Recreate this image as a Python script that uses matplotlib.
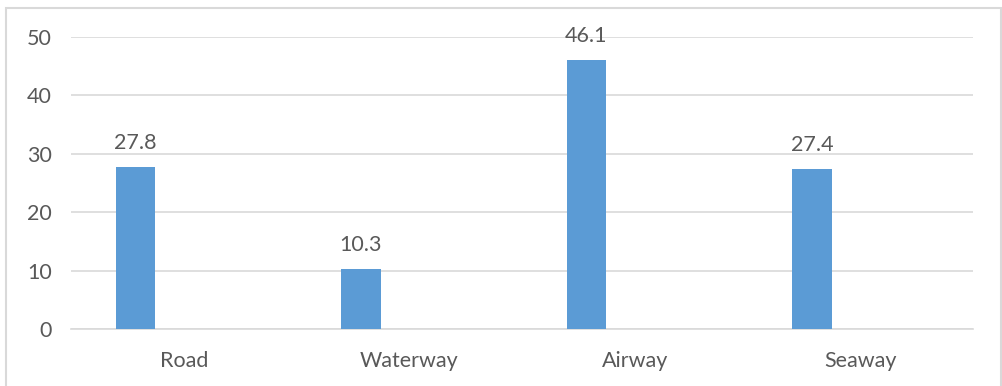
import matplotlib.pyplot as plt
from matplotlib.patches import Rectangle
import numpy as np

categories = ['Road', 'Waterway', 'Airway', 'Seaway']
values = [27.8, 10.3, 46.1, 27.4]
y_ticks = [0, 10, 20, 30, 40, 50]

plt.rcParams['font.family'] = ['Lato', 'DejaVu Sans']
text_color = '#595959'
grid_color = '#d9d9d9'
bar_color = '#5b9bd5'

fig = plt.figure(figsize=(10.03, 3.86), dpi=100)
ax = fig.add_axes([0.0708, 0.1477, 0.8994, 0.7564])

# outer chart border (bottom edge falls outside the image)
fig.patches.append(Rectangle((6 / 1003, -0.05), 995 / 1003, 1.05 - 8 / 386,
                             transform=fig.transFigure, fill=False,
                             edgecolor=grid_color, linewidth=1.5))

x = np.arange(len(categories))
offset = -0.215
width = 0.175
bars = ax.bar(x + offset, values, width=width, color=bar_color, zorder=3)

for b, v in zip(bars, values):
    ax.annotate(f'{v}', (b.get_x() + b.get_width() / 2, v),
                xytext=(0, 10), textcoords='offset points',
                ha='center', va='bottom', fontsize=15.5, color=text_color)

ax.set_xlim(-0.5, len(categories) - 0.5)
ax.set_ylim(0, 50)
ax.set_yticks(y_ticks)
ax.set_xticks(x)
ax.set_xticklabels(categories)
ax.yaxis.grid(True, color=grid_color, linewidth=1.2, zorder=0)
ax.tick_params(axis='both', length=0, labelsize=15.5, colors=text_color)
ax.tick_params(axis='x', pad=16)
ax.tick_params(axis='y', pad=14)
for s in ['top', 'right', 'left']:
    ax.spines[s].set_visible(False)
ax.spines['bottom'].set_color(grid_color)
ax.spines['bottom'].set_linewidth(1.2)

plt.savefig('out.png', dpi=100)
